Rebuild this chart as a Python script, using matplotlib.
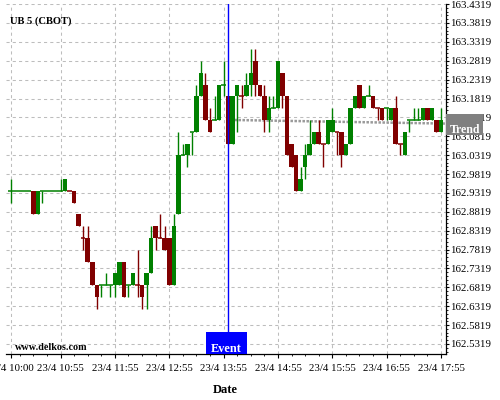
import matplotlib
matplotlib.use("Agg")
import matplotlib.pyplot as plt
import matplotlib.transforms as mtransforms
from matplotlib.patches import Rectangle
import numpy as np

plt.rcParams['font.family'] = ['Liberation Serif', 'DejaVu Serif']

# ---------------- data ----------------
title = "UB 5 (CBOT)"
session_start = "10:00"          # first 5-minute bar of 23/4
bar_minutes = 5
# prices quoted in 32nds above 162 (UB futures tick = 1/32)
open_32 = [30, 30, 30, 30, 30, 30, 28, 30, 30, 30, 30, 30, 30, 30, 30, 28,
           26, 26, 24, 22, 22, 22, 22, 22, 22, 24, 22, 22, 22, 22, 22, 23,
           27, 26, 26, 26, 22, 28, 33, 33, 35, 35, 38, 39, 36, 36, 36, 39,
           38, 34, 38, 38, 38, 39, 41, 39, 38, 36, 37, 37, 40, 38, 34, 33,
           30, 32, 33, 34, 35, 34, 34, 35, 35, 35, 33, 34, 37, 39, 37, 38,
           38, 37, 37, 37, 36, 37, 34, 33, 36, 36, 36, 36, 37, 36, 36, 35]
high_32 = [31, 30, 30, 30, 30, 30, 30, 30, 30, 30, 30, 31, 31, 30, 30, 28,
           27, 27, 24, 22, 22, 23, 22, 23, 24, 24, 22, 23, 25, 22, 23, 27,
           27, 28, 27, 26, 28, 35, 34, 34, 35, 39, 41, 40, 37, 38, 39, 41,
           38, 38, 39, 39, 40, 42, 42, 39, 39, 38, 38, 41, 40, 38, 34, 33,
           32, 34, 36, 35, 36, 34, 36, 37, 35, 35, 34, 37, 38, 39, 38, 39,
           38, 37, 37, 37, 37, 38, 34, 35, 36, 37, 37, 37, 37, 37, 36, 37]
low_32 = [29, 30, 30, 30, 30, 28, 28, 29, 30, 30, 30, 30, 30, 30, 29, 27,
          25, 24, 22, 20, 21, 22, 21, 21, 22, 21, 21, 22, 21, 20, 20, 23,
          25, 26, 25, 22, 22, 28, 33, 32, 33, 35, 38, 36, 35, 36, 36, 38,
          34, 34, 35, 37, 38, 38, 38, 38, 35, 35, 37, 37, 37, 33, 32, 30,
          30, 31, 33, 34, 34, 32, 34, 35, 33, 32, 33, 34, 37, 37, 37, 38,
          37, 36, 36, 36, 36, 34, 33, 33, 35, 36, 36, 36, 36, 36, 35, 35]
close_32 = [30, 30, 30, 30, 30, 28, 30, 30, 30, 30, 30, 30, 31, 30, 29, 27,
            26, 24, 22, 21, 22, 22, 22, 23, 24, 21, 22, 23, 22, 21, 23, 26,
            26, 26, 25, 22, 27, 33, 33, 34, 35, 38, 40, 36, 35, 36, 39, 39,
            34, 38, 39, 38, 39, 40, 39, 38, 36, 37, 37, 41, 38, 33, 32, 30,
            31, 33, 34, 35, 34, 34, 36, 36, 35, 33, 34, 37, 38, 37, 38, 38,
            37, 37, 36, 37, 37, 34, 34, 35, 36, 36, 36, 37, 36, 37, 35, 36]

event_time = "14:00"
event_label = "Event"
trend_times = ["14:07", "18:00"]
trend_values = [163.1250, 163.1155]
trend_label = "Trend"

x_tick_labels = ["23/4 10:00", "23/4 10:55", "23/4 11:55", "23/4 12:55",
                 "23/4 13:55", "23/4 14:55", "23/4 15:55", "23/4 16:55",
                 "23/4 17:55"]
y_tick_labels = ["162.5319", "162.5819", "162.6319", "162.6819", "162.7319",
                 "162.7819", "162.8319", "162.8819", "162.9319", "162.9819",
                 "163.0319", "163.0819", "163.1319", "163.1819", "163.2319",
                 "163.2819", "163.3319", "163.3819", "163.4319"]
x_label = "Date"
watermark = "www.delkos.com"


def to_min(s):
    hh, mm = s.split()[-1].split(":")
    return int(hh) * 60 + int(mm)


o = 162 + np.array(open_32) / 32.0
h = 162 + np.array(high_32) / 32.0
l = 162 + np.array(low_32) / 32.0
c = 162 + np.array(close_32) / 32.0
t = to_min(session_start) + bar_minutes * np.arange(len(o))

# candle colours: close vs open, then close vs previous close, then previous colour
GREEN, RED = '#008000', '#800000'
colors = []
prev_c, prev_col = None, GREEN
for oi, ci in zip(o, c):
    if ci > oi:
        col = GREEN
    elif ci < oi:
        col = RED
    elif prev_c is not None and ci > prev_c:
        col = GREEN
    elif prev_c is not None and ci < prev_c:
        col = RED
    else:
        col = prev_col
    colors.append(col)
    prev_c, prev_col = ci, col

# ---------------- figure ----------------
fig = plt.figure(figsize=(5, 4), dpi=100)
ax = fig.add_axes([6 / 500, 46 / 400, 440 / 500, 350 / 400])
ax.set_xlim(594.8, 1080.5)
ax.set_ylim(162.5053, 163.4322)

for s in ['left', 'top']:
    ax.spines[s].set_visible(False)
for s in ['right', 'bottom']:
    ax.spines[s].set_color('black')
    ax.spines[s].set_linewidth(0.9)

ax.yaxis.tick_right()
ax.set_yticks([float(v) for v in y_tick_labels])
ax.set_yticklabels(y_tick_labels)
ax.set_yticks(np.arange(162.5119, 163.44, 0.01), minor=True)
ax.set_xticks([to_min(v) for v in x_tick_labels])
ax.set_xticklabels(x_tick_labels)
ax.set_xticks(np.arange(610, 1081, 15), minor=True)

ax.tick_params(axis='y', which='major', length=2.2, width=0.8, pad=1, labelsize=7.8)
ax.tick_params(axis='y', which='minor', length=1.2, width=0.6)
ax.tick_params(axis='x', which='major', length=3.1, width=0.8, pad=4, labelsize=7.8)
ax.tick_params(axis='x', which='minor', length=1.7, width=0.6)

ax.grid(True, which='major', color='#bdbdbd', linestyle=(0, (3, 3)), linewidth=0.75)
ax.set_axisbelow(True)

# candles
bw = 5.0
ax.vlines(t, l, h, colors=colors, linewidth=1.0, zorder=3)
for ti, oi, ci, col in zip(t, o, c, colors):
    if oi != ci:
        ax.bar(ti, abs(ci - oi), bottom=min(oi, ci), width=bw, color=col,
               linewidth=0, zorder=3)
    else:
        ax.hlines(oi, ti - bw / 2, ti + bw / 2, colors=col, linewidth=1.1, zorder=3)

# trend
ax.plot([to_min(v) for v in trend_times], trend_values, color='#9a9a9a',
        linewidth=1.8, linestyle=(0, (1, 0.6)), zorder=2)

# event
ev = to_min(event_time)
ax.axvline(ev, color='#0000ff', linewidth=1.0, zorder=4)
btr = mtransforms.blended_transform_factory(ax.transData, ax.transAxes)
ax.add_patch(Rectangle((815.5, 0), 45, 22 / 350, transform=btr,
                       facecolor='#0000ff', edgecolor='none', zorder=5,
                       clip_on=False))
ax.text(838, 2.5 / 350, event_label, transform=btr, ha='center', va='baseline',
        color='white', fontsize=8.8, fontweight='bold', zorder=6)

# trend label box on the price axis
fig.patches.append(Rectangle((446 / 500, (400 - 135) / 400), 37 / 500, 21 / 400,
                             transform=fig.transFigure, facecolor='#808080',
                             edgecolor='none', zorder=10))
fig.text(465 / 500, (400 - 133) / 400, trend_label, ha='center', va='baseline',
         color='white', fontsize=8.6, fontweight='bold', zorder=11)

fig.text(10.5 / 500, 1 - 20.7 / 400, title, ha='left', va='center',
         fontsize=7.6, fontweight='bold')
fig.text(15 / 500, 1 - 348 / 400, watermark, ha='left', va='center',
         fontsize=7.3, fontweight='bold')
fig.text(225 / 500, 1 - 390 / 400, x_label, ha='center', va='center',
         fontsize=9, fontweight='bold')

fig.savefig("out.png", dpi=100)
